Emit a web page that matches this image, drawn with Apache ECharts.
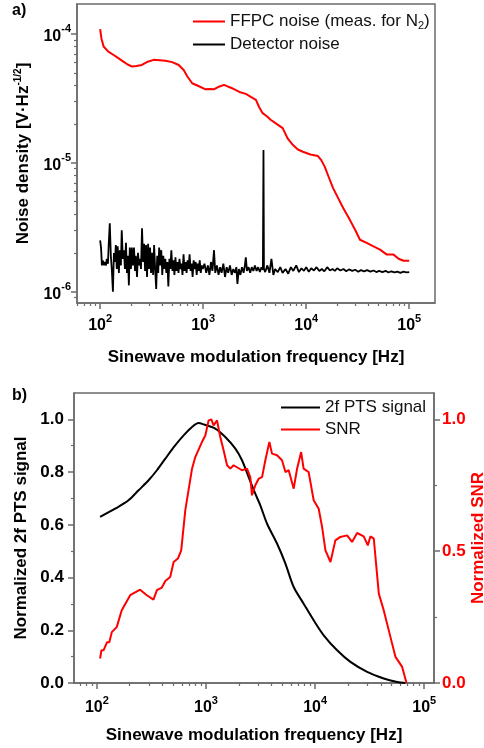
<!DOCTYPE html>
<html>
<head>
<meta charset="utf-8">
<script src="https://cdn.jsdelivr.net/npm/echarts@6/dist/echarts.min.js"></script>
<style>
html, body { margin: 0; padding: 0; background: #fff; }
#main { width: 484px; height: 748px; }
</style>
</head>
<body>
<div id="main"></div>
<script>
// ---- data ----
// panel a) noise density [V/sqrt(Hz)] vs frequency [Hz]
var ffpcNoise = [
    [100,109e-6],[103,92e-6],[105,87e-6],[108,80e-6],[111,78e-6],[120,73e-6],[134,69e-6],
    [150,65e-6],[168,61e-6],[185,58e-6],[202,56e-6],[225,56.5e-6],[254,57.5e-6],[290,61e-6],
    [330,63e-6],[380,62.5e-6],[429,62e-6],[500,60.5e-6],[579,57.5e-6],[647,52.6e-6],[700,47e-6],
    [782,41.5e-6],[900,39.5e-6],[1054,37.2e-6],[1150,37.5e-6],[1270,37.2e-6],[1420,39e-6],
    [1592,40.3e-6],[1750,39e-6],[1919,37.9e-6],[2250,35.5e-6],[2594,34.3e-6],[2900,32.5e-6],
    [3251,30.8e-6],[3500,27e-6],[3776,24.3e-6],[4150,23e-6],[4550,21.5e-6],[5200,20e-6],
    [5916,18.6e-6],[6600,15.5e-6],[7413,13.8e-6],[8300,12.7e-6],[9290,12.2e-6],[11000,11.6e-6],
    [13000,11.3e-6],[14000,10.5e-6],[15136,9.35e-6],[16500,7.8e-6],[18240,6.37e-6],[20500,5.3e-6],
    [22860,4.46e-6],[26550,3.61e-6],[30000,3.0e-6],[33270,2.53e-6],[38640,2.39e-6],[45000,2.25e-6],
    [52120,2.12e-6],[60670,1.94e-6],[70470,1.94e-6],[78890,1.80e-6],[88000,1.74e-6],[100000,1.74e-6]
];
var detectorNoise = [
    [100,2.5e-6],[102,2.2e-6],[104,1.6e-6],[106,1.75e-6],[109,1.6e-6],[111,1.7e-6],[114,1.6e-6],
    [116,1.8e-6],[119,1.65e-6],[121,2.3e-6],[124,3.4e-6],[127,1.9e-6],[130,1.45e-6],[133,1.0e-6],
    [136,2.0e-6],[139,1.7e-6],[142,2.3e-6],[145,1.5e-6],[148,2.25e-6],[152,1.4e-6],[155,2.1e-6],
    [159,1.6e-6],[162,3.0e-6],[166,1.8e-6],[170,2.1e-6],[174,1.5e-6],[178,2.4e-6],[182,1.4e-6],
    [186,1.9e-6],[190,1.12e-6],[194,2.2e-6],[199,1.5e-6],[203,2.2e-6],[208,1.6e-6],[213,2.2e-6],
    [218,1.45e-6],[222,1.9e-6],[228,1.3e-6],[233,2.0e-6],[238,1.6e-6],[244,1.8e-6],[249,1.5e-6],
    [255,3.1e-6],[261,1.7e-6],[267,2.35e-6],[273,1.45e-6],[279,2.3e-6],[285,1.3e-6],[292,2.35e-6],
    [298,1.5e-6],[305,2.2e-6],[312,1.4e-6],[319,2.0e-6],[327,1.35e-6],[334,2.3e-6],[342,1.5e-6],
    [350,1.05e-6],[358,1.9e-6],[366,1.4e-6],[374,2.2e-6],[383,1.6e-6],[392,2.1e-6],[401,1.35e-6],
    [410,1.9e-6],[419,1.5e-6],[429,1.8e-6],[439,1.4e-6],[449,1.7e-6],[459,1.1e-6],[470,1.8e-6],
    [480,1.5e-6],[491,2.1e-6],[503,1.45e-6],[514,1.75e-6],[526,1.35e-6],[538,1.85e-6],[550,1.45e-6],
    [563,1.7e-6],[576,1.4e-6],[589,1.8e-6],[602,1.5e-6],[616,1.65e-6],[630,1.35e-6],[645,1.95e-6],
    [659,1.45e-6],[674,1.7e-6],[690,1.4e-6],[706,1.75e-6],[722,1.5e-6],[738,1.95e-6],[755,1.45e-6],
    [773,1.65e-6],[790,1.3e-6],[808,1.75e-6],[827,1.5e-6],[846,1.7e-6],[865,1.35e-6],[885,1.65e-6],
    [905,1.45e-6],[926,1.75e-6],[947,1.4e-6],[969,1.6e-6],[991,1.5e-6],[1030,1.65e-6],[1070,1.4e-6],
    [1110,1.6e-6],[1150,1.35e-6],[1190,1.7e-6],[1230,1.45e-6],[1274,2.1e-6],[1310,1.4e-6],
    [1360,1.6e-6],[1410,1.35e-6],[1460,1.55e-6],[1510,1.4e-6],[1570,1.65e-6],[1630,1.3e-6],
    [1690,1.55e-6],[1750,1.4e-6],[1820,1.6e-6],[1890,1.35e-6],[1960,1.5e-6],[2030,1.4e-6],
    [2100,1.55e-6],[2150,1.15e-6],[2220,1.5e-6],[2300,1.35e-6],[2380,1.55e-6],[2470,1.4e-6],
    [2540,1.6e-6],[2594,1.85e-6],[2660,1.45e-6],[2760,1.55e-6],[2860,1.4e-6],[2960,1.55e-6],
    [3070,1.45e-6],[3180,1.6e-6],[3300,1.45e-6],[3420,1.55e-6],[3550,1.42e-6],[3680,1.55e-6],
    [3800,1.48e-6],[3850,12.6e-6],[3890,1.5e-6],[4000,1.42e-6],[4200,1.6e-6],[4400,1.4e-6],
    [4600,1.8e-6],[4800,1.35e-6],[5000,1.5e-6],[5300,1.42e-6],[5600,1.55e-6],[5900,1.4e-6],
    [6300,1.5e-6],[6700,1.38e-6],[7100,1.55e-6],[7500,1.45e-6],[8000,1.6e-6],[8500,1.42e-6],
    [9000,1.52e-6],[9500,1.45e-6],[10000,1.55e-6],[10600,1.43e-6],[11200,1.52e-6],[11900,1.46e-6],
    [12600,1.55e-6],[13400,1.45e-6],[14200,1.5e-6],[15000,1.44e-6],[16000,1.55e-6],[17000,1.46e-6],
    [18000,1.5e-6],[19000,1.45e-6],[20000,1.52e-6],[21500,1.46e-6],[23000,1.5e-6],[24500,1.44e-6],
    [26000,1.49e-6],[28000,1.45e-6],[30000,1.48e-6],[32000,1.43e-6],[34000,1.47e-6],[36500,1.44e-6],
    [39000,1.47e-6],[42000,1.43e-6],[45000,1.46e-6],[48000,1.42e-6],[51000,1.45e-6],[55000,1.42e-6],
    [59000,1.45e-6],[63000,1.41e-6],[67000,1.44e-6],[72000,1.41e-6],[77000,1.43e-6],[82000,1.40e-6],
    [88000,1.43e-6],[94000,1.41e-6],[100000,1.42e-6]
];
// panel b) normalized signal and SNR vs frequency [Hz]
var ptsSignal = [
    [107,0.63],[147,0.661],[195,0.693],[241,0.731],[298,0.769],[355,0.807],[424,0.851],[522,0.901],
    [624,0.939],[745,0.971],[855,0.986],[951,0.981],[1216,0.965],[1503,0.933],[1858,0.889],
    [2138,0.845],[2460,0.781],[2831,0.718],[3148,0.674],[3631,0.604],[4477,0.529],[5346,0.453],
    [6368,0.364],[7852,0.301],[9705,0.238],[11995,0.181],[15922,0.124],[21086,0.080],[29992,0.042],
    [42560,0.017],[56494,0.004],[67298,0.0]
];
var snr = [
    [107,0.093],[110,0.124],[115,0.124],[124,0.155],[130,0.155],[137,0.193],[152,0.212],[169,0.276],
    [182,0.3],[202,0.333],[249,0.354],[287,0.333],[330,0.316],[355,0.352],[394,0.362],[424,0.387],
    [470,0.402],[505,0.459],[553,0.472],[593,0.503],[646,0.655],[745,0.813],[798,0.857],[918,0.914],
    [986,0.939],[1057,0.996],[1119,1.0],[1175,0.977],[1262,0.996],[1352,0.933],[1452,0.882],
    [1560,0.826],[1671,0.813],[1791,0.826],[2138,0.807],[2377,0.813],[2547,0.781],[2642,0.712],
    [2831,0.75],[3041,0.775],[3266,0.781],[3499,0.845],[3811,0.914],[4027,0.87],[4477,0.864],
    [4977,0.845],[5346,0.8],[5728,0.807],[6368,0.737],[6839,0.813],[7447,0.876],[7852,0.813],
    [8730,0.8],[9705,0.693],[10789,0.661],[11588,0.592],[12445,0.503],[13836,0.459],[15346,0.541],
    [17061,0.554],[19634,0.56],[21827,0.535],[24266,0.569],[27925,0.556],[30409,0.522],
    [32137,0.556],[34514,0.548],[38371,0.339],[42560,0.276],[49091,0.174],[54576,0.099],
    [62806,0.061],[68865,0.0]
];

// tick values
var freqMajor = [100, 1000, 10000, 100000];
var freqMinor = [60, 70, 80, 90, 200, 300, 400, 500, 600, 700, 800, 900,
    2000, 3000, 4000, 5000, 6000, 7000, 8000, 9000,
    20000, 30000, 40000, 50000, 60000, 70000, 80000, 90000];
var noiseMajor = [1e-6, 1e-5, 1e-4];
var noiseMinor = [9e-7, 2e-6, 3e-6, 4e-6, 5e-6, 6e-6, 7e-6, 8e-6, 9e-6,
    2e-5, 3e-5, 4e-5, 5e-5, 6e-5, 7e-5, 8e-5, 9e-5];
var ptsMajor = [0, 0.2, 0.4, 0.6, 0.8, 1.0];
var ptsMinor = [0.1, 0.3, 0.5, 0.7, 0.9];
var snrMajor = [0, 0.5, 1.0];
var snrMinor = [0.25, 0.75];

var ffpcName = 'FFPC noise (meas. for N2)';
var FONT = '"Liberation Sans", Arial, sans-serif';
var FRAME = '#6b6b6b';

var mainDiv = document.getElementById('main');
var myChart = echarts.init(mainDiv);

function powLabel(v) {
    var e = Math.round(Math.log(v) / Math.LN10);
    return '{b|10}{s|' + e + '}';
}
var powRich = {
    b: { fontSize: 16, fontWeight: 'bold', fontFamily: FONT, color: '#000', lineHeight: 21, verticalAlign: 'bottom' },
    s: { fontSize: 11, fontWeight: 'bold', fontFamily: FONT, color: '#000', lineHeight: 11, verticalAlign: 'top' }
};
var titleStyle = { fontSize: 17, fontWeight: 'bold', fontFamily: FONT, color: '#000' };

function mainLogX(grid, min, max, gap, labelMargin) {
    return {
        type: 'log', gridIndex: grid, min: min, max: max, position: 'bottom',
        axisLine: { show: true, onZero: false, lineStyle: { color: FRAME, width: 1.5 } },
        axisTick: { show: true, customValues: freqMajor, length: 6, lineStyle: { color: FRAME, width: 1.5 } },
        axisLabel: { customValues: freqMajor, formatter: powLabel, rich: powRich, margin: labelMargin },
        splitLine: { show: false },
        name: 'Sinewave modulation frequency [Hz]', nameLocation: 'middle', nameGap: gap,
        nameMoveOverlap: false,
        nameTextStyle: titleStyle
    };
}
function minorAxis(type, grid, min, max, pos, values) {
    return {
        type: type, gridIndex: grid, min: min, max: max, position: pos,
        axisLine: { show: false, onZero: false },
        axisTick: { show: true, customValues: values, length: 3, lineStyle: { color: FRAME, width: 1.2 } },
        axisLabel: { show: false },
        splitLine: { show: false }
    };
}
function fixed1(v) { return v.toFixed(1); }

var option = {
    backgroundColor: '#ffffff',
    animation: false,
    graphic: [
        { type: 'text', left: 12, top: 3, style: { text: 'a)', font: 'bold 16px ' + FONT, fill: '#000' } },
        { type: 'text', left: 12, top: 388, style: { text: 'b)', font: 'bold 16px ' + FONT, fill: '#000' } }
    ],
    grid: [
        { left: 77, top: 4, width: 358, height: 299, outerBoundsMode: 'none', show: true, borderColor: FRAME, borderWidth: 1.5, backgroundColor: 'transparent' },
        { left: 74, top: 393, width: 360, height: 290, outerBoundsMode: 'none', show: true, borderColor: FRAME, borderWidth: 1.5, backgroundColor: 'transparent' }
    ],
    legend: [
        {
            data: [ffpcName, 'Detector noise'], orient: 'vertical', left: 188, top: 8,
            icon: 'rect', itemWidth: 32, itemHeight: 2, itemGap: 5,
            formatter: function (name) {
                if (name === ffpcName) return '{t|FFPC noise (meas. for N}{sub|2}{t|)}';
                return '{t|' + name + '}';
            },
            textStyle: {
                rich: {
                    t: { fontSize: 17, fontFamily: FONT, color: '#111', lineHeight: 19 },
                    sub: { fontSize: 11, fontFamily: FONT, color: '#111', lineHeight: 11, verticalAlign: 'bottom' }
                }
            }
        },
        {
            data: ['2f PTS signal', 'SNR'], orient: 'vertical', left: 276, top: 393,
            icon: 'rect', itemWidth: 39, itemHeight: 2, itemGap: 3,
            textStyle: { fontSize: 17, fontFamily: FONT, color: '#111', lineHeight: 19 }
        }
    ],
    xAxis: [
        mainLogX(0, 59.6, 178000, 46, 10),
        minorAxis('log', 0, 59.6, 178000, 'bottom', freqMinor),
        mainLogX(1, 61.7, 123000, 44, 12),
        minorAxis('log', 1, 61.7, 123000, 'bottom', freqMinor)
    ],
    yAxis: [
        {
            type: 'log', gridIndex: 0, min: 8.17e-7, max: 1.71e-4, position: 'left',
            axisLine: { show: true, lineStyle: { color: FRAME, width: 1.5 } },
            axisTick: { show: true, customValues: noiseMajor, length: 6, lineStyle: { color: FRAME, width: 1.5 } },
            axisLabel: { customValues: noiseMajor, formatter: powLabel, rich: powRich, margin: 6 },
            splitLine: { show: false },
            name: '{t|Noise density [V·Hz}{s|-1/2}{t|]}', nameLocation: 'middle', nameGap: 45,
            nameMoveOverlap: false,
            nameTextStyle: {
                rich: {
                    t: { fontSize: 17, fontWeight: 'bold', fontFamily: FONT, color: '#000', lineHeight: 19, verticalAlign: 'bottom' },
                    s: { fontSize: 10, fontWeight: 'bold', fontFamily: FONT, color: '#000', lineHeight: 10, verticalAlign: 'top' }
                }
            }
        },
        minorAxis('log', 0, 8.17e-7, 1.71e-4, 'left', noiseMinor),
        {
            type: 'value', gridIndex: 1, min: 0, max: 1.1, position: 'left',
            axisLine: { show: true, onZero: false, lineStyle: { color: FRAME, width: 1.5 } },
            axisTick: { show: true, customValues: ptsMajor, length: 6, lineStyle: { color: FRAME, width: 1.5 } },
            axisLabel: { customValues: ptsMajor, formatter: fixed1, margin: 10, fontSize: 17, fontWeight: 'bold', fontFamily: FONT, color: '#000' },
            splitLine: { show: false },
            name: 'Normalized 2f PTS signal', nameLocation: 'middle', nameGap: 44,
            nameMoveOverlap: false,
            nameTextStyle: titleStyle
        },
        minorAxis('value', 1, 0, 1.1, 'left', ptsMinor),
        {
            type: 'value', gridIndex: 1, min: 0, max: 1.1, position: 'right',
            axisLine: { show: true, onZero: false, lineStyle: { color: FRAME, width: 1.5 } },
            axisTick: { show: true, customValues: snrMajor, length: 6, lineStyle: { color: FRAME, width: 1.5 } },
            axisLabel: { customValues: snrMajor, formatter: fixed1, margin: 8, fontSize: 17, fontWeight: 'bold', fontFamily: FONT, color: '#ff0000' },
            splitLine: { show: false },
            name: 'Normalized SNR', nameLocation: 'middle', nameGap: 36,
            nameMoveOverlap: false,
            nameTextStyle: { fontSize: 17, fontWeight: 'bold', fontFamily: FONT, color: '#ff0000' }
        },
        minorAxis('value', 1, 0, 1.1, 'right', snrMinor)
    ],
    series: [
        {
            name: 'Detector noise', type: 'line', xAxisIndex: 0, yAxisIndex: 0,
            data: detectorNoise, symbol: 'none',
            lineStyle: { color: '#000', width: 1.8 }, itemStyle: { color: '#000' }
        },
        {
            name: ffpcName, type: 'line', xAxisIndex: 0, yAxisIndex: 0,
            data: ffpcNoise, symbol: 'none',
            lineStyle: { color: '#ff0000', width: 2 }, itemStyle: { color: '#ff0000' }
        },
        {
            name: '2f PTS signal', type: 'line', xAxisIndex: 2, yAxisIndex: 2,
            data: ptsSignal, symbol: 'none', smooth: 0.3,
            lineStyle: { color: '#000', width: 2 }, itemStyle: { color: '#000' }
        },
        {
            name: 'SNR', type: 'line', xAxisIndex: 2, yAxisIndex: 4,
            data: snr, symbol: 'none',
            lineStyle: { color: '#ff0000', width: 2 }, itemStyle: { color: '#ff0000' }
        }
    ]
};
myChart.setOption(option);
</script>
</body>
</html>
